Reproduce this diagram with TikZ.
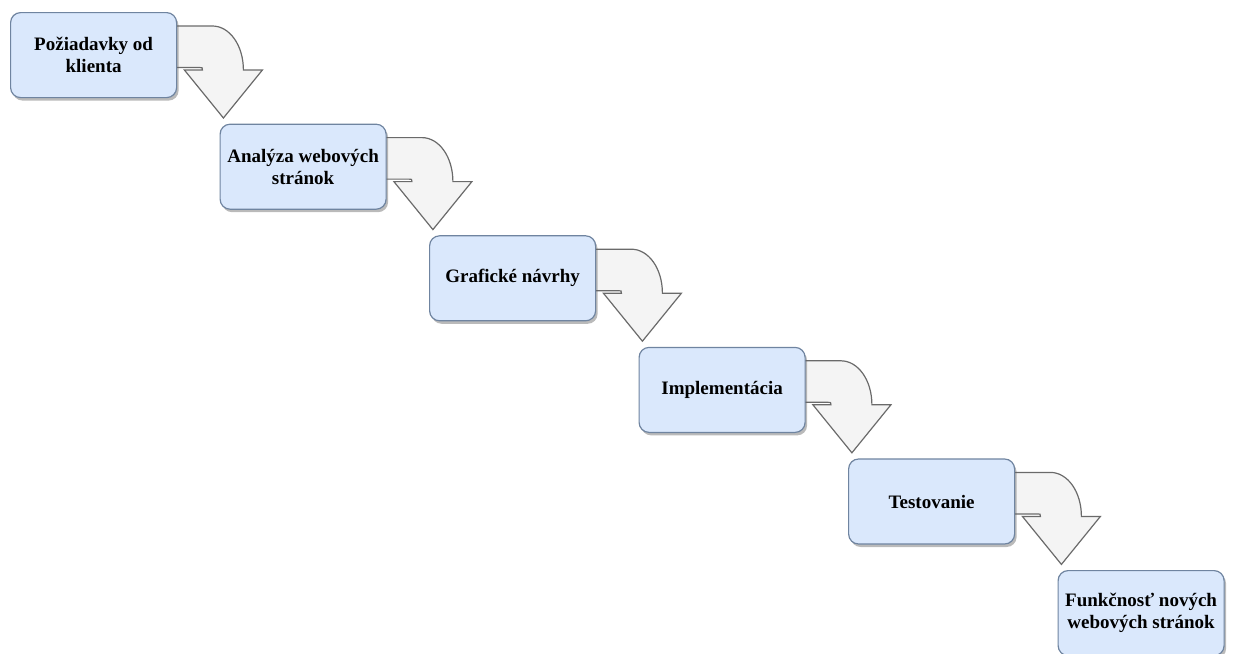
\documentclass[tikz,border=0pt]{standalone}
\usepackage{fontspec}
\setmainfont{Liberation Serif}
\usetikzlibrary{shadows}
\definecolor{boxfill}{HTML}{DAE8FC}
\definecolor{boxline}{HTML}{6F84A0}
\definecolor{arrfill}{HTML}{F4F4F4}
\definecolor{arrline}{HTML}{6A6A6A}
\tikzset{
  stepbox/.style={rectangle, rounded corners=10pt, draw=boxline, line width=1.2pt,
    fill=boxfill, minimum width=166pt, minimum height=85pt, anchor=north west,
    align=center, inner sep=2pt,
    font=\fontsize{19}{22}\selectfont\bfseries,
    drop shadow={shadow xshift=2pt, shadow yshift=-3pt, opacity=0.45, fill=black!60}},
  bendarrow/.style={draw=arrline, fill=arrfill, line width=1.2pt, line join=miter}
}
\newcommand{\bentarrow}[1]{%
  \path[bendarrow, shift={(#1.north east)}]
    (-6,14) -- (36,14) .. controls (53.1,14) and (67,33.2) .. (67,58)
    -- (86,58) -- (47,106) -- (8,58) -- (26,58)
    .. controls (26,55.5) .. (23,55.5) -- (-6,55.5) -- cycle;}
\begin{document}
\begin{tikzpicture}[x=1pt,y=-1pt]
\useasboundingbox (0,0) rectangle (1233,653);
\clip (0,0) rectangle (1233,653);
\coordinate (p1) at (10,12);
\coordinate (p2) at (219.5,123.6);
\coordinate (p3) at (429,235.2);
\coordinate (p4) at (638.5,346.8);
\coordinate (p5) at (848,458.4);
\coordinate (p6) at (1057.5,570);
% phantom nodes for anchor references of arrows (drawn first, behind boxes)
\foreach \i in {1,...,5} {
  \path (p\i) node[minimum width=166pt, minimum height=85pt, anchor=north west, inner sep=0pt] (a\i) {};
}
\bentarrow{a1}
\bentarrow{a2}
\bentarrow{a3}
\bentarrow{a4}
\bentarrow{a5}
\node[stepbox] (b1) at (p1) {Požiadavky od\\klienta};
\node[stepbox] (b2) at (p2) {Analýza webových\\stránok};
\node[stepbox] (b3) at (p3) {Grafické návrhy};
\node[stepbox] (b4) at (p4) {Implementácia};
\node[stepbox] (b5) at (p5) {Testovanie};
\node[stepbox] (b6) at (p6) {Funkčnosť nových\\webových stránok};
\end{tikzpicture}
\end{document}
